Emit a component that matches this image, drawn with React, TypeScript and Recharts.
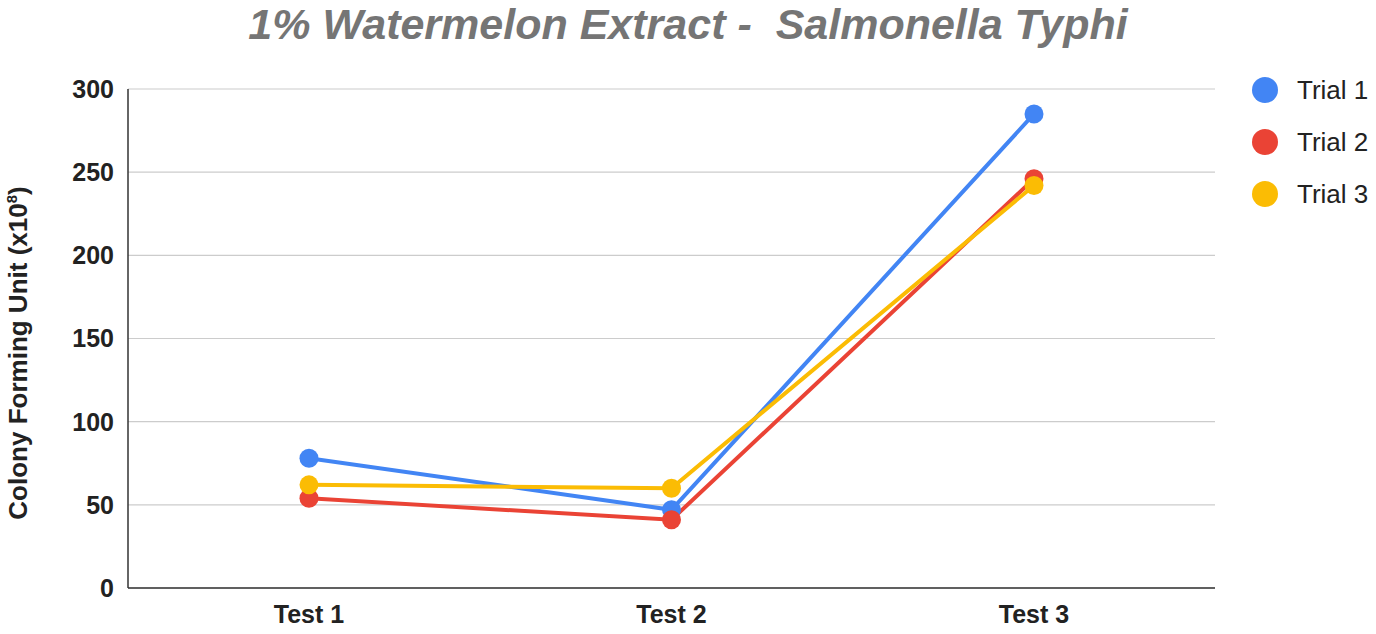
import React from 'react';
import { LineChart, Line, XAxis, YAxis, CartesianGrid } from 'recharts';

const categories = ['Test 1', 'Test 2', 'Test 3'];
const trial1 = [78, 47, 285];
const trial2 = [54, 41, 246];
const trial3 = [62, 60, 242];
const yTicks = [0, 50, 100, 150, 200, 250, 300];

const seriesNames = ['Trial 1', 'Trial 2', 'Trial 3'];
const seriesColors = ['#4285F4', '#EA4335', '#FBBC04'];

const data = categories.map((c, i) => ({
  name: c,
  t1: trial1[i],
  t2: trial2[i],
  t3: trial3[i],
}));

const FONT = '"Liberation Sans", Arial, sans-serif';

export default function App() {
  return (
    <div style={{ position: 'absolute', left: 0, top: 0, width: 1376, height: 634, background: '#fff' }}>
      <LineChart
        width={1376}
        height={634}
        data={data}
        margin={{ top: 89, right: 161, bottom: 0, left: 0 }}
      >
        <CartesianGrid vertical={false} stroke="#cccccc" strokeWidth={1.2} />
        <XAxis
          dataKey="name"
          padding={{ left: 181, right: 181 }}
          tickLine={false}
          axisLine={{ stroke: '#333', strokeWidth: 1.5 }}
          tickMargin={11}
          tick={{ fill: '#222', fontSize: 25, fontWeight: 'bold', fontFamily: FONT }}
          height={46}
        />
        <YAxis
          domain={[0, 300]}
          ticks={yTicks}
          width={128}
          tickLine={false}
          axisLine={{ stroke: '#333', strokeWidth: 1.5 }}
          tickMargin={8}
          tick={{ fill: '#222', fontSize: 25, fontWeight: 'bold', fontFamily: FONT }}
        />
        {['t1', 't2', 't3'].map((k, i) => (
          <Line
            key={k}
            dataKey={k}
            name={seriesNames[i]}
            stroke={seriesColors[i]}
            strokeWidth={4}
            dot={{ r: 9.5, fill: seriesColors[i], stroke: 'none' }}
            activeDot={false}
            isAnimationActive={false}
          />
        ))}
      </LineChart>
      <svg
        width={1376}
        height={634}
        style={{ position: 'absolute', left: 0, top: 0, pointerEvents: 'none' }}
      >
        <text
          x={688}
          y={39}
          textAnchor="middle"
          fontFamily={FONT}
          fontSize={43}
          fontWeight="bold"
          fontStyle="italic"
          fill="#757575"
          style={{ whiteSpace: 'pre' }}
        >
          1% Watermelon Extract -  Salmonella Typhi
        </text>
        <text
          transform="translate(27, 353) rotate(-90)"
          textAnchor="middle"
          fontFamily={FONT}
          fontSize={26}
          fontWeight="bold"
          fill="#222"
        >
          Colony Forming Unit (x10<tspan dy={-10} fontSize={15}>8</tspan><tspan dy={10}>)</tspan>
        </text>
        {seriesNames.map((n, i) => (
          <g key={n}>
            <circle cx={1265} cy={90 + i * 52} r={13} fill={seriesColors[i]} />
            <text
              x={1297}
              y={90 + i * 52}
              dy="0.36em"
              fontFamily={FONT}
              fontSize={26}
              fill="#222"
            >
              {n}
            </text>
          </g>
        ))}
      </svg>
    </div>
  );
}
